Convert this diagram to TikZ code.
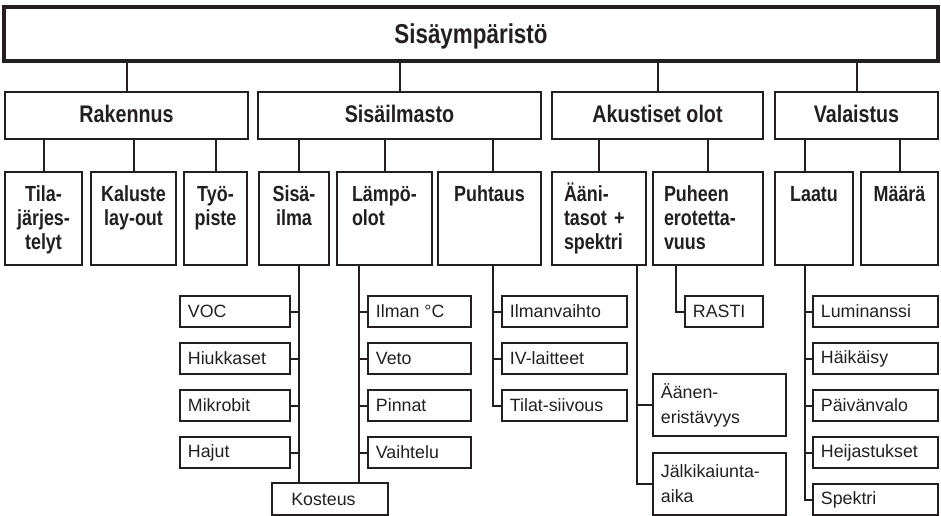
\documentclass[tikz,border=0pt]{standalone}
\usepackage{fontspec}
\setmainfont{Liberation Sans}
\newfontfamily\narrowfont[FakeStretch=0.82]{Liberation Sans}
\usetikzlibrary{fit,calc}
\definecolor{ink}{HTML}{231F20}

\tikzset{
  box/.style={draw=ink, inner sep=0pt},
  rootbox/.style={box, line width=3pt},
  areabox/.style={box, line width=1.9pt},
  leafbox/.style={box, line width=1.5pt},
  link/.style={draw=ink, line width=1.5pt},
  lbl/.style={inner sep=0pt, text=ink},
  t1/.style={lbl, anchor=base, font=\narrowfont\bfseries\fontsize{20.5}{24}\selectfont},
  t2/.style={lbl, anchor=base, font=\narrowfont\bfseries\fontsize{18}{21}\selectfont},
  t3/.style={lbl, anchor=base, text width=62pt, align=center, font=\narrowfont\bfseries\fontsize{16.4}{18}\selectfont},
  t3l/.style={t3, anchor=base west, align=left},
  t4/.style={lbl, anchor=west, align=left, font=\fontsize{13.35}{18.75}\selectfont},
}

\begin{document}
\begin{tikzpicture}[x=0.75pt, y=-0.75pt]
\useasboundingbox (0,0) rectangle (941,516);

% root
\node[rootbox, fit={(4,7) (938,61)}, label={[t1, yshift=-29.25pt]north:Sisäympäristö}] (root) {};

% main areas
\node[areabox, fit={(5,92) (248,139)}, label={[t2, yshift=-24pt]north:Rakennus}] (rak) {};
\node[areabox, fit={(258,92) (541,139)}, label={[t2, yshift=-24pt]north:Sisäilmasto}] (sisail) {};
\node[areabox, fit={(552,92) (763,139)}, label={[t2, yshift=-24pt]north:Akustiset olot}] (akust) {};
\node[areabox, fit={(775,92) (938,139)}, label={[t2, yshift=-24pt]north:Valaistus}] (valai) {};

% sub areas
\node[areabox, fit={(5,172) (82,265)}, label={[t3, yshift=-23.25pt]north:Tila-\\järjes-\\telyt}] (tila) {};
\node[areabox, fit={(91,172) (176,265)}, label={[t3, yshift=-23.25pt]north:Kaluste\\lay-out}] (kal) {};
\node[areabox, fit={(184,172) (247,265)}, label={[t3, yshift=-23.25pt]north:Työ-\\piste}] (tyo) {};
\node[areabox, fit={(259,172) (329,265)}, label={[t3, yshift=-23.25pt]north:Sisä-\\ilma}] (sisa) {};
\node[areabox, fit={(337,172) (432,265)}, label={[t3l, xshift=12pt, yshift=-23.25pt]north west:Lämpö-\\olot}] (lampo) {};
\node[areabox, fit={(438,172) (541,265)}, label={[t3, yshift=-23.25pt]north:Puhtaus}] (puht) {};
\node[areabox, fit={(552,172) (646,265)}, label={[t3l, xshift=9.75pt, yshift=-23.25pt]north west:Ääni-\\tasot +\\spektri}] (aani) {};
\node[areabox, fit={(653,172) (763,265)}, label={[t3l, xshift=9pt, yshift=-23.25pt]north west:Puheen\\erotetta-\\vuus}] (puhe) {};
\node[areabox, fit={(775,172) (853,265)}, label={[t3, yshift=-23.25pt]north:Laatu}] (laatu) {};
\node[areabox, fit={(861,172) (938,265)}, label={[t3, yshift=-23.25pt]north:Määrä}] (maara) {};

% factors
\node[leafbox, fit={(180,296) (290,327)}, label={[t4, xshift=6.5pt]west:VOC}] (voc) {};
\node[leafbox, fit={(180,343) (290,374)}, label={[t4, xshift=6.5pt]west:Hiukkaset}] (hiuk) {};
\node[leafbox, fit={(180,390) (290,421)}, label={[t4, xshift=6.5pt]west:Mikrobit}] (mikro) {};
\node[leafbox, fit={(180,437) (290,468)}, label={[t4, xshift=6.5pt]west:Hajut}] (hajut) {};
\node[leafbox, fit={(272,483) (388,515)}, label={[t4, xshift=15pt]west:Kosteus}] (kost) {};

\node[leafbox, fit={(368,296) (471,327)}, label={[t4, xshift=6.5pt]west:Ilman °C}] (ilman) {};
\node[leafbox, fit={(368,343) (471,374)}, label={[t4, xshift=6.5pt]west:Veto}] (veto) {};
\node[leafbox, fit={(368,390) (471,421)}, label={[t4, xshift=6.5pt]west:Pinnat}] (pinnat) {};
\node[leafbox, fit={(368,437) (471,468)}, label={[t4, xshift=6.5pt]west:Vaihtelu}] (vaiht) {};

\node[leafbox, fit={(502,296) (627,327)}, label={[t4, xshift=6.5pt]west:Ilmanvaihto}] (ilmv) {};
\node[leafbox, fit={(502,343) (627,374)}, label={[t4, xshift=6.5pt]west:IV-laitteet}] (ivl) {};
\node[leafbox, fit={(502,390) (627,421)}, label={[t4, xshift=6.5pt]west:Tilat-siivous}] (tilat) {};

\node[leafbox, fit={(685,296) (763,327)}, label={[t4, xshift=6.5pt]west:RASTI}] (rasti) {};
\node[leafbox, fit={(653,374) (786,436)}, label={[t4, xshift=6.5pt]west:Äänen-\\eristävyys}] (aanen) {};
\node[leafbox, fit={(653,453) (786,515)}, label={[t4, xshift=6.5pt]west:Jälkikaiunta-\\aika}] (jalki) {};

\node[leafbox, fit={(813,296) (938,327)}, label={[t4, xshift=6.5pt]west:Luminanssi}] (lumi) {};
\node[leafbox, fit={(813,343) (938,374)}, label={[t4, xshift=6.5pt]west:Häikäisy}] (haik) {};
\node[leafbox, fit={(813,390) (938,421)}, label={[t4, xshift=6.5pt]west:Päivänvalo}] (paiva) {};
\node[leafbox, fit={(813,437) (938,468)}, label={[t4, xshift=6.5pt]west:Heijastukset}] (heij) {};
\node[leafbox, fit={(813,484) (938,515)}, label={[t4, xshift=6.5pt]west:Spektri}] (spek) {};

% spines of the lower combs
\coordinate (spS) at ($(voc.east)+(8,0)$);
\coordinate (spT) at ($(ilman.west)+(-8,0)$);
\coordinate (spP) at ($(ilmv.west)+(-8,0)$);
\coordinate (spA) at ($(aanen.west)+(-15,0)$);
\coordinate (spR) at ($(rasti.west)+(-8,0)$);
\coordinate (spL) at ($(lumi.west)+(-7,0)$);

% root -> areas
\foreach \n in {rak,sisail,akust,valai}
  \draw[link] (\n.north) -- (\n.north |- root.south);

% areas -> sub areas
\foreach \p/\c in {rak/tila,rak/kal,rak/tyo,sisail/lampo,akust/aani,akust/puhe,valai/maara}
  \draw[link] (\c.north) -- (\c.north |- \p.south);
\draw[link] (spS |- sisail.south) -- (spS |- sisa.north);
\draw[link] (spP |- sisail.south) -- (spP |- puht.north);
\draw[link] (spL |- valai.south) -- (spL |- laatu.north);

% sub areas -> factors
\draw[link] (spS |- sisa.south) -- (spS |- kost.north);
\foreach \n in {voc,hiuk,mikro,hajut}
  \draw[link] (\n.east) -- (\n.east -| spS);
\draw[link] (spT |- lampo.south) -- (spT |- kost.north);
\foreach \n in {ilman,veto,pinnat,vaiht}
  \draw[link] (\n.west) -- (\n.west -| spT);
\draw[link] (spP |- puht.south) |- (tilat.west);
\foreach \n in {ilmv,ivl}
  \draw[link] (\n.west) -- (\n.west -| spP);
\draw[link] (spA |- aani.south) |- (jalki.west);
\draw[link] (aanen.west) -- (aanen.west -| spA);
\draw[link] (spR |- puhe.south) |- (rasti.west);
\draw[link] (spL |- laatu.south) |- (spek.west);
\foreach \n in {lumi,haik,paiva,heij}
  \draw[link] (\n.west) -- (\n.west -| spL);
\end{tikzpicture}
\end{document}
